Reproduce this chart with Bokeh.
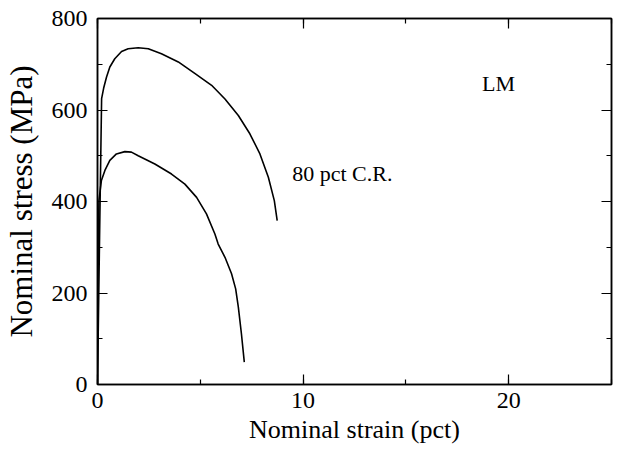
from bokeh.plotting import figure
from bokeh.models import LinearAxis, SingleIntervalTicker, Range1d, Label, CustomLabelingPolicy
from bokeh.embed import file_html
from bokeh.resources import INLINE

# Data
upper_strain = [0, 0.1, 0.2, 0.3, 0.44, 0.6, 0.84, 1.17, 1.49, 1.98, 2.47, 3.11, 3.93, 4.73, 5.55, 6.2, 6.85, 7.41, 7.9, 8.31, 8.6, 8.74]
upper_stress = [0, 320, 625, 648, 672, 694, 712, 728, 734, 736, 734, 723, 705, 680, 654, 624, 588, 548, 504, 453, 402, 358]

lower_strain = [0, 0.03, 0.07, 0.19, 0.36, 0.6, 0.92, 1.33, 1.65, 1.98, 2.79, 3.6, 4.25, 4.82, 5.3, 5.71, 5.87, 6.2, 6.52, 6.72, 6.85, 7.0, 7.14]
lower_stress = [0, 250, 402, 446, 468, 490, 504, 509, 508, 500, 482, 460, 438, 409, 373, 329, 307, 278, 242, 209, 169, 111, 49]

labels = [("LM", 18.7, 658), ("80 pct C.R.", 9.47, 461)]

FONT = "Liberation Serif"

p = figure(width=617, height=449, output_backend="svg", toolbar_location=None,
           x_range=Range1d(0, 25), y_range=Range1d(0, 800),
           min_border_left=96, min_border_right=6, min_border_top=18, min_border_bottom=65,
           x_axis_type=None, y_axis_type=None)
p.grid.visible = False
p.outline_line_color = "black"
p.outline_line_width = 1.5
p.background_fill_color = "white"
p.border_fill_color = "white"

def style(ax, show_labels):
    ax.major_tick_in = 10
    ax.major_tick_out = 0
    ax.minor_tick_in = 5
    ax.minor_tick_out = 0
    ax.axis_line_width = 1.5
    ax.major_tick_line_width = 1.2
    ax.minor_tick_line_width = 1.2
    ax.major_label_text_font = FONT
    ax.axis_label_text_font = FONT
    ax.axis_label_text_font_style = "normal"
    ax.axis_label_text_color = "black"
    ax.major_label_text_color = "black"
    if show_labels:
        ax.major_label_text_font_size = "24px"
    else:
        ax.major_label_text_font_size = "0px"
        ax.major_label_policy = CustomLabelingPolicy(code="return new Set()")
        ax.major_label_standoff = 0

xb = LinearAxis(ticker=SingleIntervalTicker(interval=10, num_minor_ticks=2),
                axis_label="Nominal strain (pct)")
style(xb, True)
xb.major_label_standoff = 8
xb.axis_label_text_font_size = "26px"
xb.axis_label_standoff = 4
p.add_layout(xb, "below")

yl = LinearAxis(ticker=SingleIntervalTicker(interval=200, num_minor_ticks=2),
                axis_label="Nominal stress (MPa)")
style(yl, True)
yl.major_label_standoff = 10
yl.axis_label_text_font_size = "31px"
yl.axis_label_standoff = 10
p.add_layout(yl, "left")

xt = LinearAxis(ticker=SingleIntervalTicker(interval=10, num_minor_ticks=2))
style(xt, False)
p.add_layout(xt, "above")

yr = LinearAxis(ticker=SingleIntervalTicker(interval=200, num_minor_ticks=2))
style(yr, False)
p.add_layout(yr, "right")

p.line(upper_strain, upper_stress, line_color="black", line_width=1.6)
p.line(lower_strain, lower_stress, line_color="black", line_width=1.6)

for txt, x, y in labels:
    p.add_layout(Label(x=x, y=y, text=txt, text_font=FONT, text_font_size="22px",
                       text_color="black", text_baseline="middle", text_align="left"))

open("out.html", "w").write(file_html(p, INLINE))
